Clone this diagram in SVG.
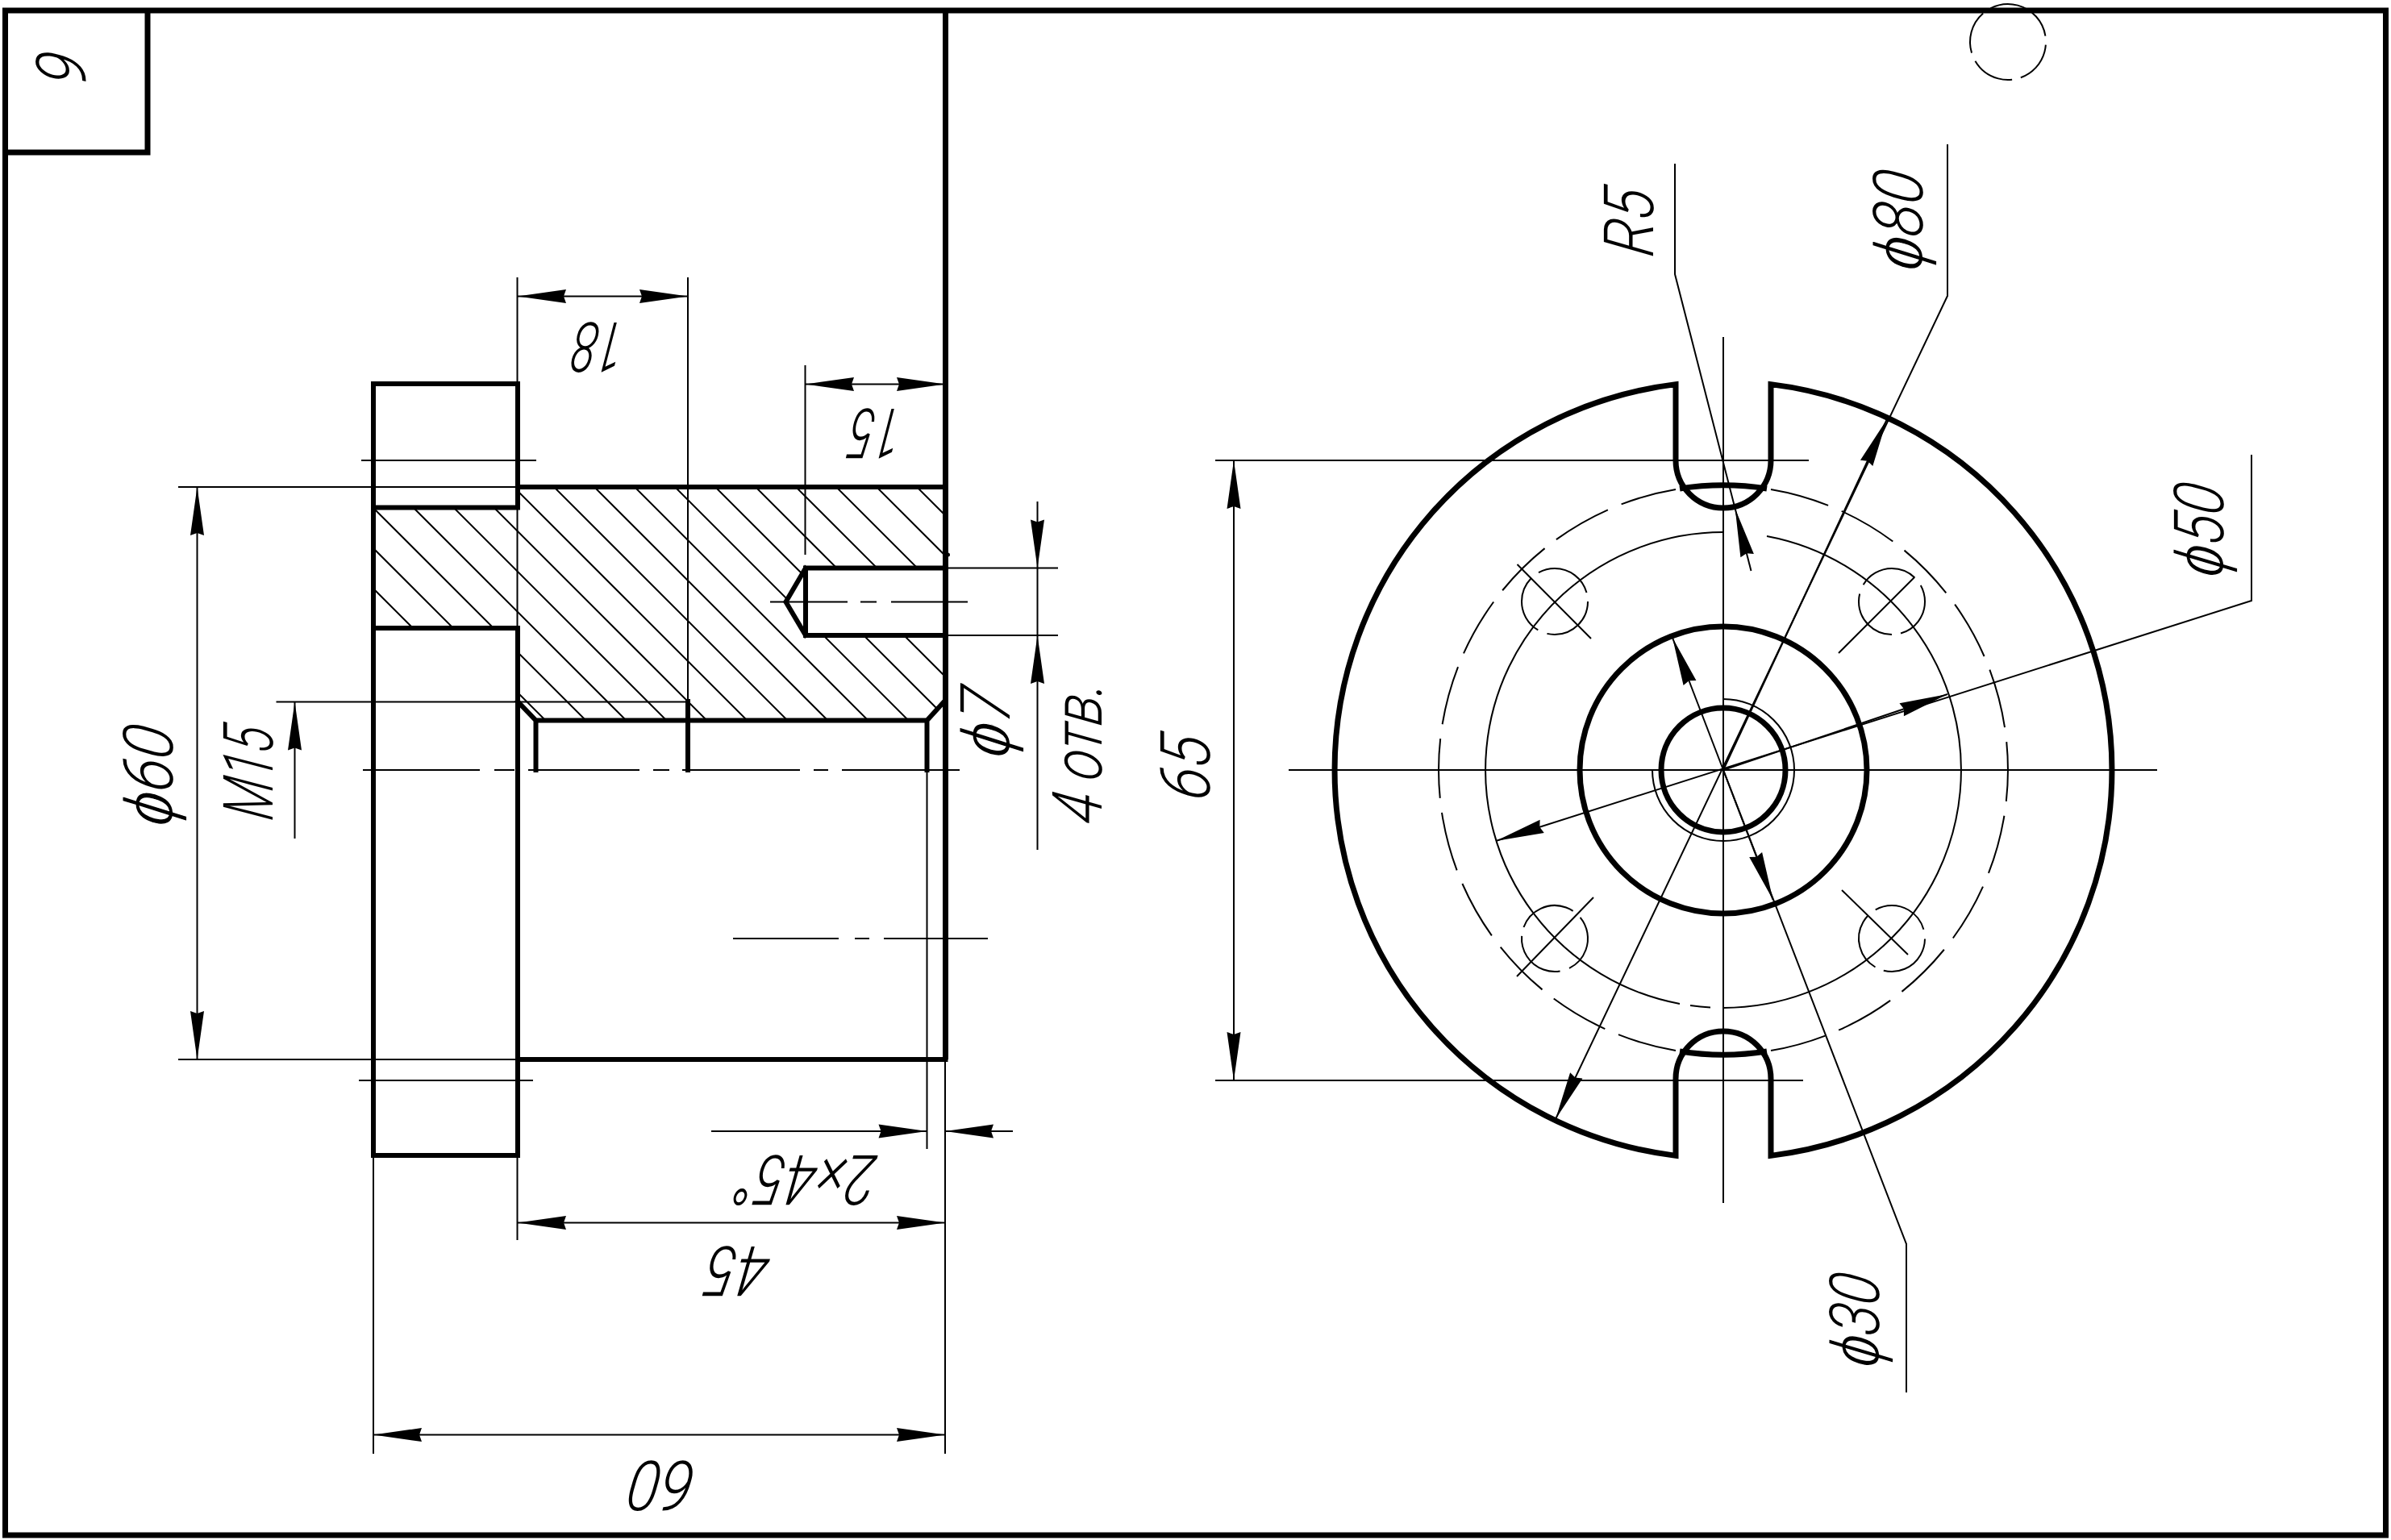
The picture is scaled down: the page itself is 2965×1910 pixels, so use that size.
<svg xmlns="http://www.w3.org/2000/svg" width="2965" height="1910" viewBox="0 0 2965 1910">
<style>
.k{fill:none;stroke:#000;stroke-width:6;stroke-linejoin:miter;stroke-linecap:square}
.b{fill:none;stroke:#000;stroke-width:7}
.t{fill:none;stroke:#000;stroke-width:2}
.h{fill:none;stroke:#000;stroke-width:2}
.a{marker-end:url(#ar)}
.d{marker-start:url(#ar);marker-end:url(#ar)}
text{font-family:"Roboto","Liberation Sans",Arial,sans-serif;font-style:italic;font-weight:300;font-size:86px;fill:#000}
.f{font-family:"Liberation Sans",Arial,sans-serif;font-weight:400;stroke:#fff;stroke-width:1.5px}
</style>
<defs>
<marker id="ar" markerUnits="userSpaceOnUse" markerWidth="64" markerHeight="20" refX="60" refY="10" orient="auto-start-reverse" overflow="visible"><path d="M60 10L0 1.500L3 10L0 18.500Z" fill="#000"/></marker>
<clipPath id="sec"><path clip-rule="evenodd" d="M463 629.500H642V604H1172V870L1149.500 893H664.500L642 870V779H463ZM999 704H1172V788H999L974.500 746.500Z"/></clipPath>
</defs>
<rect width="2965" height="1910" fill="#fff"/>
<rect x="6.500" y="13" width="2952" height="1891" fill="none" stroke="#000" stroke-width="7"/>
<g id="frame"><path class="b" d="M6.500 189H183V13M1172.500 13V1314"/></g>
<g id="top-mark"><circle class="t" cx="2490" cy="52" r="47" stroke-dasharray="54 11" transform="rotate(-75 2490 52)"/></g>
<g id="hatching"><path class="h" clip-path="url(#sec)" d="M333 600L633 900M383 600L683 900M433 600L733 900M483 600L783 900M533 600L833 900M583 600L883 900M633 600L933 900M683 600L983 900M733 600L1033 900M783 600L1083 900M833 600L1133 900M883 600L1183 900M933 600L1233 900M983 600L1283 900M1033 600L1333 900M1083 600L1383 900M1133 600L1433 900"/></g>
<g id="side-view">
<path class="k" d="M463 476H642V629.500H463ZM463 629.500V1433H642V779H463M642 604H1172.500M642 1314H1172.500"/>
<path class="k" d="M642 870L664.500 893.500H1149.500L1170 871M664.500 893.500V955M853 870V955M1149.500 893.500V955"/>
<path class="k" d="M1172 704.500H999V788H1172M999 704.500L974.500 746.500L999 788"/>
<circle cx="1175.500" cy="688" r="2.500"/>
</g>
<g id="front-view">
<path class="b" d="M2196 476.630A482 482 0 0 1 2196 1433.370V1338A59 59 0 0 0 2078 1338V1433.370A482 482 0 0 1 2078 476.630V571A59 59 0 0 0 2196 571Z"/>
<path class="b" d="M2083 606A353 353 0 0 1 2191 606M2083 1304A353 353 0 0 0 2191 1304"/>
<circle class="b" cx="2137" cy="955" r="178"/>
<circle class="b" cx="2137" cy="955" r="77"/>
<path class="t" d="M2137 867A88 88 0 1 1 2049 955"/>
<path class="t" stroke-dasharray="74 18" d="M2196 606.970A353 353 0 0 1 2196 1303.030"/>
<path class="t" stroke-dasharray="74 18" d="M2078 1303.030A353 353 0 0 1 2078 606.970"/>
<path class="t" d="M2191 665A295 295 0 0 1 2137 1250M2121 1249.600A295 295 0 0 1 2096 1247M2083 1245A295 295 0 0 1 2137 660"/>
<circle class="t" cx="1928" cy="746" r="41" stroke-dasharray="74 12"/>
<circle class="t" cx="2346" cy="746" r="41" stroke-dasharray="74 12" transform="rotate(90 2346 746)"/>
<circle class="t" cx="1928" cy="1164" r="41" stroke-dasharray="74 12" transform="rotate(200 1928 1164)"/>
<circle class="t" cx="2346" cy="1164" r="41" stroke-dasharray="74 12" transform="rotate(120 2346 1164)"/>
<path class="t" d="M1881.500 700L1973 792M2374 716L2280 810M1976 1113L1881 1211M2284 1104L2366 1184"/>
</g>
<g id="centerlines">
<path class="t" d="M450 955H595M613 955H638M655 955H793M810 955H830M846 955H992M1009 955H1027M1044 955H1190"/>
<path class="t" d="M955 746.500H1051M1067 746.500H1087M1105 746.500H1200"/>
<path class="t" d="M909 1164H1040M1060 1164H1078M1096 1164H1225"/>
<path class="t" d="M1598 955H2675M2137 418V1492"/>
</g>
<g id="connectors">
<path class="t" d="M641.500 344V476M641.500 629V779M641.500 1433V1538M853 344V870M998.500 453V688M448 571H665M445 1340H661M221 604H642M221 1314H642M342.500 870.500H853M1149.500 955V1425M1172 1314V1803M463 1433V1803M1172 704.500H1312M1172 788H1312M1507 571H2243M1507 1340H2236"/>
<line class="t d" x1="642" y1="367.500" x2="853" y2="367.500"/>
<line class="t d" x1="999" y1="476.500" x2="1172" y2="476.500"/>
<line class="t d" x1="244.500" y1="604" x2="244.500" y2="1314"/>
<line class="t a" x1="365.500" y1="1040" x2="365.500" y2="870.500"/>
<line class="t d" x1="642" y1="1516.500" x2="1172" y2="1516.500"/>
<line class="t d" x1="463" y1="1779.500" x2="1172" y2="1779.500"/>
<line class="t a" x1="882" y1="1403" x2="1149.500" y2="1403"/>
<line class="t a" x1="1256" y1="1403" x2="1172" y2="1403"/>
<line class="t a" x1="1286.500" y1="622" x2="1286.500" y2="704.500"/>
<line class="t a" x1="1286.500" y1="1054" x2="1286.500" y2="788"/>
<line class="t" x1="1286.500" y1="704.500" x2="1286.500" y2="788"/>
<line class="t d" x1="1530" y1="571" x2="1530" y2="1340"/>
<path class="t" d="M2077 203V340L2151.700 631"/>
<line class="t a" x1="2171.500" y1="708" x2="2151.700" y2="631"/>
<path class="t a" d="M2415 179V367L1929 1388"/>
<line class="t a" x1="2137" y1="955" x2="2340" y2="520"/>
<path class="t a" d="M2792 564V745L1855 1043"/>
<line class="t a" x1="2137" y1="955" x2="2415" y2="861"/>
<path class="t" d="M2364 1727V1543L2137 955"/>
<line class="t a" x1="2137" y1="955" x2="2198.600" y2="1116"/>
<line class="t a" x1="2137" y1="955" x2="2074" y2="791"/>
</g>
<g id="labels">
<text transform="translate(106 108) rotate(-90) skewX(-8)" textLength="39" lengthAdjust="spacingAndGlyphs">9</text>
<text transform="translate(214 1027) rotate(-90) skewX(-8)" textLength="124" lengthAdjust="spacingAndGlyphs"><tspan class="f">ϕ</tspan>60</text>
<text transform="translate(338 1019) rotate(-90) skewX(-8)" textLength="115" lengthAdjust="spacingAndGlyphs">M15</text>
<text transform="translate(1252 942) rotate(-90) skewX(-8)" textLength="85" lengthAdjust="spacingAndGlyphs"><tspan class="f">ϕ</tspan>7</text>
<text transform="translate(1366 1024) rotate(-90) skewX(-8)" textLength="176" lengthAdjust="spacingAndGlyphs" font-size="94">4 отв.</text>
<text transform="translate(1500 995) rotate(-90) skewX(-8)" textLength="80" lengthAdjust="spacingAndGlyphs">65</text>
<text transform="translate(2050 320) rotate(-90) skewX(-8)" textLength="83" lengthAdjust="spacingAndGlyphs">R5</text>
<text transform="translate(2384 338) rotate(-90) skewX(-8)" textLength="123" lengthAdjust="spacingAndGlyphs"><tspan class="f">ϕ</tspan>80</text>
<text transform="translate(2757 718) rotate(-90) skewX(-8)" textLength="115" lengthAdjust="spacingAndGlyphs"><tspan class="f">ϕ</tspan>50</text>
<text transform="translate(2330 1698) rotate(-90) skewX(-8)" textLength="115" lengthAdjust="spacingAndGlyphs"><tspan class="f">ϕ</tspan>30</text>
<text transform="translate(778 400) rotate(180) skewX(-8)" textLength="64" lengthAdjust="spacingAndGlyphs">18</text>
<text transform="translate(1122 507) rotate(180) skewX(-8)" textLength="64" lengthAdjust="spacingAndGlyphs">15</text>
<text transform="translate(1090 1433) rotate(180) skewX(-8)" textLength="174" lengthAdjust="spacingAndGlyphs">2×45°</text>
<text transform="translate(958 1546) rotate(180) skewX(-8)" textLength="78" lengthAdjust="spacingAndGlyphs">45</text>
<text transform="translate(865 1812) rotate(180) skewX(-8)" textLength="81" lengthAdjust="spacingAndGlyphs">60</text>
</g>
</svg>
